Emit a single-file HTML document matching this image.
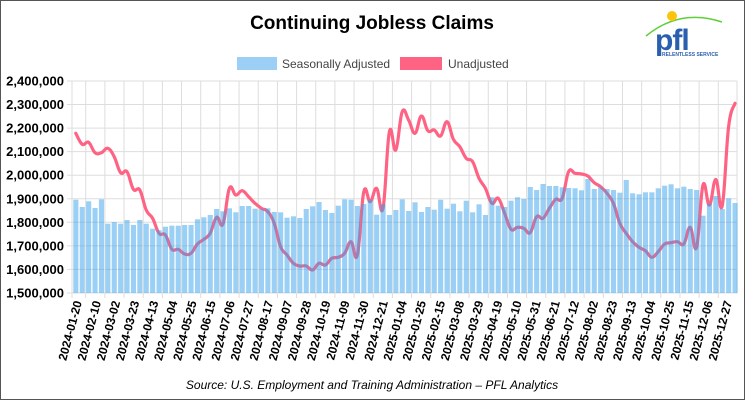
<!DOCTYPE html>
<html><head><meta charset="utf-8"><style>
html,body{margin:0;padding:0;background:#fff}
svg{display:block}
text{font-family:"Liberation Sans",Arial,sans-serif}
</style></head><body>
<svg id="c" width="745" height="400" xmlns="http://www.w3.org/2000/svg">
<rect x="0.5" y="0.5" width="744" height="399" fill="#fff" stroke="#555" stroke-width="1"/>
<text x="372" y="29" text-anchor="middle" font-size="19" font-weight="bold" fill="#000">Continuing Jobless Claims</text>
<rect x="237" y="57" width="40" height="13" fill="#9ccff5"/>
<text x="282" y="68" font-size="12" fill="#444">Seasonally Adjusted</text>
<rect x="400" y="57" width="42" height="13" fill="#ff6384"/>
<text x="448" y="68" font-size="12" fill="#444">Unadjusted</text>
<g id="logo">
<path d="M646 36 Q680 8 722 22" fill="none" stroke="#5fcf3a" stroke-width="1.5"/>
<circle cx="672" cy="16" r="5" fill="#ffc20e"/>
<text x="655" y="50" font-size="30" font-weight="bold" fill="#2a5fb0" style="letter-spacing:-1px">pfl</text>
<text x="662" y="56" font-size="5" font-weight="bold" fill="#2a5fb0">RELENTLESS SERVICE</text>
</g>
<g id="grid"></g>
<g id="line"></g>
<g id="bars"></g>
<g id="ylab"></g>
<g id="xlab"></g>
<text x="372" y="389" text-anchor="middle" font-size="12" font-style="italic" fill="#000">Source: U.S. Employment and Training Administration – PFL Analytics</text>
</svg>
<script>
var NS="http://www.w3.org/2000/svg";
function el(p,t,a,txt){var e=document.createElementNS(NS,t);for(var k in a)e.setAttribute(k,a[k]);if(txt!=null)e.textContent=txt;document.getElementById(p).appendChild(e);return e;}
var L=72,R=737,T=81,B=293,S=23.55;
var yl=["2,400,000","2,300,000","2,200,000","2,100,000","2,000,000","1,900,000","1,800,000","1,700,000","1,600,000","1,500,000"];
for(var k=0;k<10;k++){var y=T+S*k;
el("grid","line",{x1:L-5,x2:R,y1:y,y2:y,stroke:"#ddd","stroke-width":1});
el("ylab","text",{x:64,y:y+4.5,"text-anchor":"end","font-size":13,"font-weight":"bold",fill:"#000"},yl[k]);}
var labs=["2024-01-20","2024-02-10","2024-03-02","2024-03-23","2024-04-13","2024-05-04","2024-05-25","2024-06-15","2024-07-06","2024-07-27","2024-08-17","2024-09-07","2024-09-28","2024-10-19","2024-11-09","2024-11-30","2024-12-21","2025-01-04","2025-01-25","2025-02-15","2025-03-08","2025-03-29","2025-04-19","2025-05-10","2025-05-31","2025-06-21","2025-07-12","2025-08-02","2025-08-23","2025-09-13","2025-10-04","2025-10-25","2025-11-15","2025-12-06","2025-12-27"];
el("grid","line",{x1:L,x2:L,y1:T,y2:B+5,stroke:"#ddd"});
el("grid","line",{x1:R,x2:R,y1:T,y2:B,stroke:"#ddd"});
for(var k=0;k<34;k++){var x=85.7+19.17*k;
el("grid","line",{x1:x,x2:x,y1:T,y2:B+5,stroke:"#ddd"});}
for(var k=0;k<labs.length;k++){var x=77+19.12*k;
el("xlab","text",{x:0,y:0,"text-anchor":"end","font-size":12,"font-weight":"bold",fill:"#000",transform:"translate("+(x+5)+",302) rotate(-75)"},labs[k]);}
var bars=[199.7,207,201.3,208,199.3,223.7,222,223.7,220,225,220,223.7,228.7,230.3,226.7,225.7,225.7,225,225,219.3,217.3,215,209,211.3,208.3,212.3,
206,206,208.7,209.3,208.3,212,212.3,217.7,216.3,218,209,206.3,202,210,213,205.7,199.3,199.7,206,204,199.7,214.7,204.3,215,210,199.3,
211,202.3,212,207,209.7,199.7,208.7,203.7,211.3,200.7,212.3,204.3,215,197.3,205.7,207,200.7,197.3,199,187,190,184,186,186,187.3,188,
188.3,190.3,179,189,187.3,189,190,192.7,180,193.3,194.3,192.3,192.3,188.3,185.7,184.3,188.3,186.7,189,190,215.7,203.7,196,209,198.3,203];
var line=[133.3,144.3,142.3,152.7,152.7,148.3,156.7,172.7,171.7,189.3,190,210,218.3,233.3,235,249.3,249.3,254,253.3,244,239.3,233.3,217.3,224,188.3,195,
190.7,196.7,203.3,208.3,211.7,223.3,246.7,255,263.3,266,266,270,263.3,265,258.3,257.3,253.3,241.7,255,191.7,201.7,188.3,208.3,131.7,150,111.7,
120,
133.3,116,130.7,130,136,121.7,139.3,146.7,158.3,161.7,178.3,188.3,203.3,198.3,213.3,229.3,227.3,228.3,232.7,216.7,218.3,208.3,199.3,198.3,171.7,
173.3,174,176,182.7,186.7,193.3,203.3,223.3,233.3,241.7,247.3,250.7,257.3,251.7,244,242.7,241.7,244,227.3,247.3,185,205,179.3,206,126.7,103.3];
var bw=6.4,x0=73.3;
var pts=line.map(function(v,i){return [x0+bw*i+2.5,v];});
var d="M"+pts[0][0]+","+pts[0][1];
for(var i=0;i<pts.length-1;i++){var p0=pts[Math.max(0,i-1)],p1=pts[i],p2=pts[i+1],p3=pts[Math.min(pts.length-1,i+2)],t=0.2;
d+=" C"+(p1[0]+(p2[0]-p0[0])*t)+","+(p1[1]+(p2[1]-p0[1])*t)+" "+(p2[0]-(p3[0]-p1[0])*t)+","+(p2[1]-(p3[1]-p1[1])*t)+" "+p2[0]+","+p2[1];}
el("line","path",{d:d,fill:"none",stroke:"#ff6384","stroke-width":3.2,"stroke-linejoin":"round","stroke-linecap":"round"});
bars.forEach(function(v,i){el("bars","rect",{x:x0+bw*i,y:v,width:5.1,height:B-v,fill:"rgba(54,162,235,0.5)"});});
</script>
</body></html>
